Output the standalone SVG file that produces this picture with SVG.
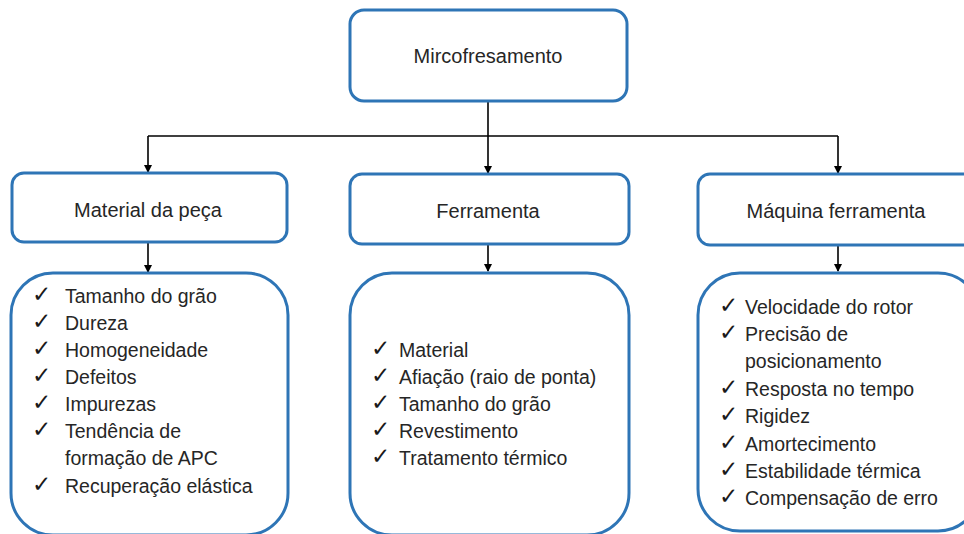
<svg xmlns="http://www.w3.org/2000/svg" width="964" height="534" viewBox="0 0 964 534">
<defs>
<style>
.box{fill:#fff;stroke:#2E75B6;stroke-width:3}
.t{font-family:"Liberation Sans",Arial,sans-serif;font-size:19.5px;fill:#262626}
.h{font-family:"Liberation Sans",Arial,sans-serif;font-size:20px;fill:#262626;text-anchor:middle}
.ck{font-family:"DejaVu Sans",sans-serif;font-size:23px;fill:#1a1a1a}
.ln{fill:none;stroke:#000;stroke-width:1.6}
</style>
<marker id="ah" markerWidth="8" markerHeight="8" refX="7" refY="4" orient="auto" markerUnits="userSpaceOnUse">
<path d="M0,0 L8,4 L0,8 z" fill="#000"/>
</marker>
</defs>
<rect width="964" height="534" fill="#fff"/>
<g id="connectors">
<path class="ln" d="M488,101 V136"/>
<path class="ln" d="M148,136 H838"/>
<path class="ln" d="M148,136 V172" marker-end="url(#ah)"/>
<path class="ln" d="M488,136 V173" marker-end="url(#ah)"/>
<path class="ln" d="M838,136 V173" marker-end="url(#ah)"/>
<path class="ln" d="M148,242 V272" marker-end="url(#ah)"/>
<path class="ln" d="M488,244 V271" marker-end="url(#ah)"/>
<path class="ln" d="M838,245 V271" marker-end="url(#ah)"/>
</g>
<g id="root">
<rect class="box" x="350" y="10" width="277" height="91" rx="14"/>
<text class="h" x="488" y="63">Mircofresamento</text>
</g>
<g id="material">
<rect class="box" x="12" y="173" width="275" height="69" rx="12"/>
<text class="h" x="148" y="217">Material da peça</text>
</g>
<g id="ferramenta">
<rect class="box" x="350" y="174" width="279" height="70" rx="12"/>
<text class="h" x="488" y="218">Ferramenta</text>
</g>
<g id="maquina">
<rect class="box" x="698" y="174" width="282" height="71" rx="12"/>
<text class="h" x="836" y="218">Máquina ferramenta</text>
</g>
<g id="material-list">
<rect class="box" x="11" y="273" width="277" height="262" rx="42"/>
<g class="ck">
<text x="32" y="302">✓</text><text x="32" y="329">✓</text><text x="32" y="356">✓</text><text x="32" y="383">✓</text><text x="32" y="410">✓</text><text x="32" y="437">✓</text><text x="32" y="492">✓</text>
</g>
<g class="t">
<text x="65" y="303">Tamanho do grão</text>
<text x="65" y="330">Dureza</text>
<text x="65" y="357">Homogeneidade</text>
<text x="65" y="384">Defeitos</text>
<text x="65" y="411">Impurezas</text>
<text x="65" y="438">Tendência de</text>
<text x="65" y="465">formação de APC</text>
<text x="65" y="493">Recuperação elástica</text>
</g>
</g>
<g id="ferramenta-list">
<rect class="box" x="350" y="273" width="279" height="262" rx="42"/>
<g class="ck">
<text x="371" y="356">✓</text><text x="371" y="383">✓</text><text x="371" y="410">✓</text><text x="371" y="437">✓</text><text x="371" y="464">✓</text>
</g>
<g class="t">
<text x="399" y="357">Material</text>
<text x="399" y="384">Afiação (raio de ponta)</text>
<text x="399" y="411">Tamanho do grão</text>
<text x="399" y="438">Revestimento</text>
<text x="399" y="465">Tratamento térmico</text>
</g>
</g>
<g id="maquina-list">
<rect class="box" x="698" y="273" width="282" height="258" rx="42"/>
<g class="ck">
<text x="719" y="313">✓</text><text x="719" y="340">✓</text><text x="719" y="395">✓</text><text x="719" y="422">✓</text><text x="719" y="450">✓</text><text x="719" y="477">✓</text><text x="719" y="504">✓</text>
</g>
<g class="t">
<text x="745" y="314">Velocidade do rotor</text>
<text x="745" y="341">Precisão de</text>
<text x="745" y="368">posicionamento</text>
<text x="745" y="396">Resposta no tempo</text>
<text x="745" y="423">Rigidez</text>
<text x="745" y="451">Amortecimento</text>
<text x="745" y="478">Estabilidade térmica</text>
<text x="745" y="505">Compensação de erro</text>
</g>
</g>
</svg>
